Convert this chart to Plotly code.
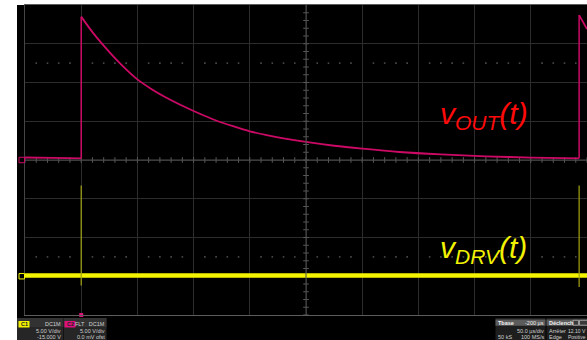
import numpy as np
import plotly.graph_objects as go

# ---------------- page / grid geometry ----------------
W, H = 587, 340
ML, MR, MT, MB = 25, 0, 5, 25

# time base: 50 us/div, 10 divisions, trigger one division from the left edge
T_DIV = 50.0
T_LEFT, T_RIGHT = -50.0, 450.0
N_VDIV = 8

# channel settings (V/div, offset in V)
C1_VDIV, C1_OFFSET = 5.0, -15.0
C2_VDIV, C2_OFFSET = 5.0, 0.0

# ---------------- acquired data ----------------
# C2 : output voltage, time in us, volts
c2_t = [-50, -25, 0,
        0, 10, 20, 30, 40, 50, 62, 75, 90, 105, 120, 135, 150, 165, 180,
        200, 225, 250, 283, 320, 360, 400, 443,
        443, 450]
c2_v = [0.32, 0.27, 0.22,
        18.5, 16.5, 14.75, 13.15, 11.7, 10.4, 9.2, 8.1, 7.0, 6.0, 5.1,
        4.36, 3.7, 3.22, 2.8, 2.33, 1.84, 1.46, 1.03, 0.72, 0.48, 0.31, 0.22,
        18.7, 16.9]

# C1 : drive voltage, flat baseline with narrow pulses at each trigger
c1_t = [-50, 450]
c1_v = [0.1, 0.1]
c1_pulse_t = [0, 443]
c1_pulse_hi = [11.7, 11.7]
c1_pulse_lo = [-1.2, -1.4]

TRIGGER_T = 0.0

C2_COLOR = "#cc0a66"
C1_COLOR = "#f4f400"
C1_PULSE_COLOR = "#a4a414"


def to_div(v, vdiv, offset):
    return [(x + offset) / vdiv for x in v]


c2_d = to_div(c2_v, C2_VDIV, C2_OFFSET)
c1_d = to_div(c1_v, C1_VDIV, C1_OFFSET)

fig = go.Figure()

# ---------- graticule decorations (center cross ticks, dotted rows) ----------
minor_t = np.arange(T_LEFT, T_RIGHT + 0.1, T_DIV / 5)
minor_d = np.arange(-N_VDIV / 2, N_VDIV / 2 + 0.01, 0.2)
t_center = (T_LEFT + T_RIGHT) / 2

fig.add_trace(go.Scatter(
    x=minor_t, y=[0] * len(minor_t), mode="markers",
    marker=dict(symbol="line-ns", size=4, line=dict(width=1, color="#5a5a5a")),
    hoverinfo="skip", showlegend=False))
fig.add_trace(go.Scatter(
    x=[t_center] * len(minor_d), y=minor_d, mode="markers",
    marker=dict(symbol="line-ew", size=4, line=dict(width=1, color="#5a5a5a")),
    hoverinfo="skip", showlegend=False))
dot_t = [t for t in minor_t[1:-1] if abs(t / T_DIV - round(t / T_DIV)) > 1e-6]
for row in (2.5, -2.5):
    fig.add_trace(go.Scatter(
        x=dot_t, y=[row] * len(dot_t), mode="markers",
        marker=dict(symbol="square", size=1.6, color="#4a4a4a"),
        hoverinfo="skip", showlegend=False))

fig.add_shape(type="line", xref="x", yref="paper", x0=t_center, x1=t_center,
              y0=0, y1=1, line=dict(color="#4c4c4c", width=1))
fig.add_shape(type="line", xref="paper", yref="y", x0=0, x1=1, y0=0, y1=0,
              line=dict(color="#4c4c4c", width=1))

# ---------- C1 trace ----------
fig.add_trace(go.Scatter(x=c1_t, y=c1_d, mode="lines",
                         line=dict(color=C1_COLOR, width=4.5),
                         hoverinfo="skip", showlegend=False))
for t, hi, lo in zip(c1_pulse_t, c1_pulse_hi, c1_pulse_lo):
    fig.add_trace(go.Scatter(
        x=[t, t], y=to_div([lo, hi], C1_VDIV, C1_OFFSET), mode="lines",
        line=dict(color=C1_PULSE_COLOR, width=1.2),
        hoverinfo="skip", showlegend=False))

# ---------- C2 trace: smooth runs joined by vertical edges ----------
runs, start = [], 0
for i in range(1, len(c2_t)):
    if c2_t[i] == c2_t[i - 1]:
        runs.append((start, i))
        start = i
runs.append((start, len(c2_t)))
for k, (a, b) in enumerate(runs):
    fig.add_trace(go.Scatter(
        x=c2_t[a:b], y=c2_d[a:b], mode="lines",
        line=dict(color=C2_COLOR, width=1.8, shape="spline", smoothing=0.8),
        hoverinfo="skip", showlegend=False))
    if k > 0:
        fig.add_trace(go.Scatter(
            x=[c2_t[a - 1], c2_t[a]], y=[c2_d[a - 1], c2_d[a]], mode="lines",
            line=dict(color=C2_COLOR, width=1.5),
            hoverinfo="skip", showlegend=False))

# trigger position marker under the grid
fig.add_trace(go.Scatter(x=[TRIGGER_T], y=[-N_VDIV / 2], mode="markers",
                         marker=dict(symbol="square", size=4, color="#e0107a"),
                         cliponaxis=False, hoverinfo="skip", showlegend=False))

# ---------- pixel helpers for the frame furniture ----------
PW, PH = W - ML - MR, H - MT - MB


def px(x):
    return (x - ML) / PW


def py(y):
    return (H - MB - y) / PH


# black instrument background
fig.add_shape(type="rect", xref="paper", yref="paper", layer="below",
              x0=px(17), x1=1.0, y0=py(H), y1=1.0,
              fillcolor="black", line_width=0)

# channel ground markers on the left edge
for d0, col in ((C2_OFFSET / C2_VDIV, C2_COLOR), (C1_OFFSET / C1_VDIV, C1_COLOR)):
    fig.add_shape(type="rect", xref="paper", yref="y",
                  x0=px(19), x1=px(24.5), y0=d0 - 0.07, y1=d0 + 0.07,
                  line=dict(color=col, width=1), fillcolor="rgba(0,0,0,0)")

# ---------- waveform labels ----------
LABEL_FONT = dict(family="Liberation Sans, Arial, sans-serif", size=30)
fig.add_annotation(x=358, y=1.15, xref="x", yref="y", showarrow=False,
                   text="<i>v<sub>OUT</sub>(t)</i>",
                   font=dict(color="#ff0a0a", **LABEL_FONT))
fig.add_annotation(x=358, y=-2.3, xref="x", yref="y", showarrow=False,
                   text="<i>v<sub>DRV</sub>(t)</i>",
                   font=dict(color="#f2f200", **LABEL_FONT))

# ---------- status bar ----------
SB_FONT = "Liberation Sans, Arial, sans-serif"


def box(x0, x1, y0, y1, fill, line=None):
    fig.add_shape(type="rect", xref="paper", yref="paper",
                  x0=px(x0), x1=px(x1), y0=py(y1), y1=py(y0),
                  fillcolor=fill, line=dict(width=0.8 if line else 0, color=line or fill))


def txt(x, y, s, anchor="right", color="#d0d0d0", size=5.5, bold=False):
    fig.add_annotation(x=px(x), y=py(y), xref="paper", yref="paper",
                       text=f"<b>{s}</b>" if bold else s, showarrow=False,
                       xanchor=anchor, yanchor="middle", borderpad=0,
                       font=dict(family=SB_FONT, size=size, color=color))


# channel descriptors
box(17, 63, 318, 340, "#262626")
box(17, 63, 318, 327, "#323232")
box(18.5, 29.5, 321, 327.5, "#f0f000")
txt(19.5, 324.3, "C1", "left", "#202020", 5.5, True)
txt(62, 324.3, "DC1M")
txt(62, 331, "5.00 V/div")
txt(62, 337.3, "-15.000 V")

box(63.5, 106.5, 318, 340, "#262626")
box(63.5, 106.5, 318, 327, "#323232")
box(64.5, 75.5, 321, 327.5, "#e0107a")
txt(65.5, 324.3, "C2", "left", "#202020", 5.5, True)
txt(106, 324.3, "FLT   DC1M")
txt(106, 331, "5.00 V/div")
txt(106, 337.3, "0.0 mV ofst")

# timebase descriptor
box(495.5, 545.5, 318, 340, "#1e1e1e")
box(495.5, 545.5, 319.5, 325.8, "#5c5c5c")
txt(497, 322.7, "Tbase", "left", "#f0f0f0", 5.5, True)
txt(545, 322.7, "-200 µs", "right", "#f0f0f0")
txt(545, 330.5, "50.0 µs/div")
txt(497, 336.8, "50 kS", "left")
txt(545, 336.8, "100 MS/s")

# trigger descriptor
box(546.5, 600, 318, 340, "#1e1e1e")
box(546.5, 600, 319.5, 325.8, "#5c5c5c")
txt(548, 322.7, "Déclench", "left", "#f0f0f0", 5.5, True)
box(573, 578.5, 320.3, 325.2, "#3a3a3a", "#b0b0b0")
box(579.5, 590, 320.3, 325.2, "#3a3a3a", "#b0b0b0")
txt(548, 330.5, "Arrêter", "left")
txt(586.5, 330.5, "12.10 V", "right", size=5)
txt(548, 336.8, "Edge", "left")
txt(586.5, 336.8, "Positive", "right", size=5)

# ---------- axes / layout ----------
fig.update_xaxes(range=[T_LEFT, T_RIGHT], tick0=T_LEFT, dtick=T_DIV,
                 showgrid=True, gridcolor="#2c2c2c", gridwidth=1,
                 zeroline=False, showticklabels=False, ticks="",
                 showline=True, mirror=True, linecolor="#5c5c5c", linewidth=1)
fig.update_yaxes(range=[-N_VDIV / 2, N_VDIV / 2], tick0=-N_VDIV / 2, dtick=1,
                 showgrid=True, gridcolor="#2c2c2c", gridwidth=1,
                 zeroline=False, showticklabels=False, ticks="",
                 showline=True, mirror=True, linecolor="#454545", linewidth=1)
fig.update_layout(width=W, height=H, autosize=False,
                  margin=dict(l=ML, r=MR, t=MT, b=MB, pad=0),
                  paper_bgcolor="white", plot_bgcolor="black",
                  showlegend=False, hovermode=False)

fig.write_html("out.html", config={"displayModeBar": False})
